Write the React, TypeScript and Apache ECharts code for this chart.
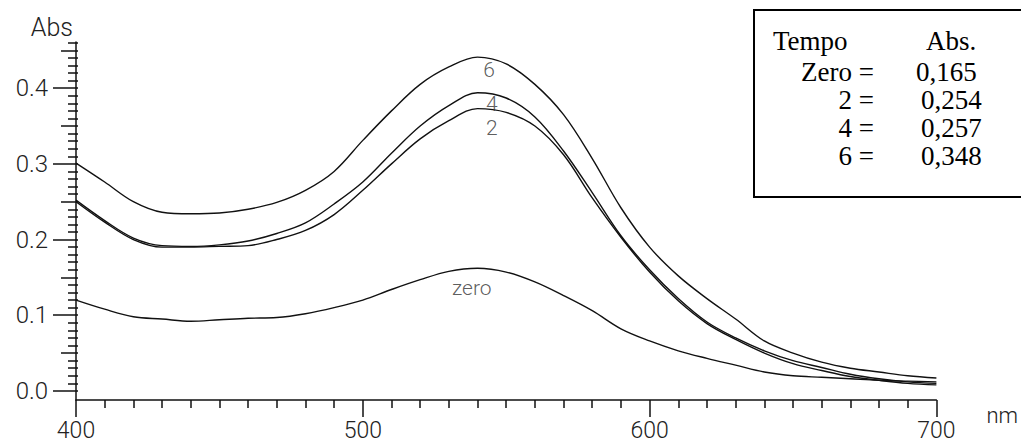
import React, { useEffect, useRef } from "react";
import * as echarts from "echarts";

// ---- data ----
const wavelengths = [400, 410, 420, 430, 440, 450, 460, 470, 480, 490, 500, 510, 520, 530, 540, 550, 560, 570, 580, 590, 600, 610, 620, 630, 640, 650, 660, 670, 680, 690, 700];
const absZero = [0.120, 0.108, 0.098, 0.095, 0.092, 0.094, 0.096, 0.097, 0.102, 0.110, 0.120, 0.134, 0.147, 0.158, 0.162, 0.157, 0.144, 0.126, 0.106, 0.082, 0.066, 0.053, 0.043, 0.034, 0.025, 0.020, 0.018, 0.016, 0.014, 0.013, 0.012];
const abs2 = [0.250, 0.223, 0.200, 0.190, 0.190, 0.191, 0.192, 0.200, 0.212, 0.233, 0.265, 0.300, 0.333, 0.357, 0.373, 0.368, 0.350, 0.312, 0.255, 0.203, 0.157, 0.119, 0.089, 0.068, 0.050, 0.036, 0.027, 0.019, 0.014, 0.010, 0.008];
const abs4 = [0.252, 0.225, 0.202, 0.192, 0.191, 0.193, 0.198, 0.208, 0.222, 0.247, 0.276, 0.314, 0.350, 0.377, 0.394, 0.387, 0.362, 0.317, 0.262, 0.205, 0.160, 0.122, 0.091, 0.070, 0.053, 0.040, 0.031, 0.022, 0.016, 0.012, 0.010];
const abs6 = [0.301, 0.276, 0.250, 0.236, 0.234, 0.235, 0.240, 0.249, 0.265, 0.290, 0.331, 0.370, 0.405, 0.428, 0.441, 0.432, 0.405, 0.365, 0.307, 0.242, 0.190, 0.152, 0.122, 0.095, 0.066, 0.050, 0.038, 0.030, 0.025, 0.020, 0.017];

const curveLabels = ["6", "4", "2", "zero"];
const curveLabelNm = [544, 545, 545, 538];
const curveLabelAbs = [0.424, 0.379, 0.347, 0.136];

const xTickLabels = [400, 500, 600, 700];
const yMajorTicks = [0.0, 0.1, 0.2, 0.3, 0.4];
const yMediumTicks = [0.05, 0.15, 0.25, 0.35, 0.45];

const legendHeader = ["Tempo", "Abs."];
const legendTimes = ["Zero =", "2 =", "4 =", "6 ="];
const legendValues = ["0,165", "0,254", "0,257", "0,348"];

export default function App() {
  const ref = useRef<HTMLDivElement>(null);

  useEffect(() => {
    if (!ref.current) return;
    const chart = echarts.init(ref.current, null, { renderer: "svg" });

    const toPairs = (arr: number[]) => wavelengths.map((w, i) => [w, arr[i]]);
    const yMin = -0.012;
    const yMax = 0.461;

    // minor tick positions every 0.01, excluding the 0.05 marks
    const yMinorTicks: number[] = [];
    const yAllTicks: number[] = [];
    for (let k = 0; k <= 46; k++) {
      const v = k / 100;
      yAllTicks.push(v);
      if (k % 5 !== 0) yMinorTicks.push(v);
    }

    const axisFont = "Roboto, 'DejaVu Sans', sans-serif";
    const serif = "'Liberation Serif', 'Times New Roman', serif";

    const baseY = {
      type: "value" as const,
      min: yMin,
      max: yMax,
      position: "left" as const,
      splitLine: { show: false },
    };

    const legendRowY = [72, 100, 128, 156];
    const legendFont = `27px ${serif}`;

    const graphic: any[] = [
      {
        type: "rect",
        shape: { x: 754, y: 10, width: 290, height: 187 },
        style: { fill: "#fff", stroke: "#000", lineWidth: 2 },
        z: 10,
      },
      {
        type: "text",
        x: 773,
        y: 41,
        style: { text: legendHeader[0], font: legendFont, fill: "#000", align: "left", textAlign: "left", verticalAlign: "middle", textVerticalAlign: "middle" },
        z: 11,
      },
      {
        type: "text",
        x: 926,
        y: 41,
        style: { text: legendHeader[1], font: legendFont, fill: "#000", align: "left", textAlign: "left", verticalAlign: "middle", textVerticalAlign: "middle" },
        z: 11,
      },
    ];
    legendTimes.forEach((t, i) => {
      graphic.push({
        type: "text",
        x: 874,
        y: legendRowY[i],
        style: { text: t, font: legendFont, fill: "#000", align: "right", textAlign: "right", verticalAlign: "middle", textVerticalAlign: "middle" },
        z: 11,
      });
      graphic.push({
        type: "text",
        x: i === 0 ? 916 : 921,
        y: legendRowY[i],
        style: { text: legendValues[i], font: legendFont, fill: "#000", align: "left", textAlign: "left", verticalAlign: "middle", textVerticalAlign: "middle" },
        z: 11,
      });
    });

    const lineSeries = (name: string, arr: number[]) => ({
      name,
      type: "line" as const,
      data: toPairs(arr),
      showSymbol: false,
      symbol: "none",
      smooth: 0.35,
      lineStyle: { color: "#111", width: 1.4 },
      z: 2,
    });

    chart.setOption({
      animation: false,
      backgroundColor: "#fff",
      grid: { left: 76, right: 76, top: 42, bottom: 43, containLabel: false },
      xAxis: {
        type: "value",
        min: 400,
        max: 700,
        interval: 100,
        name: "nm",
        nameLocation: "end",
        nameGap: 50,
        nameTextStyle: { fontFamily: axisFont, fontWeight: 300, fontSize: 22, color: "#222", align: "left", verticalAlign: "top", padding: [4, 0, 0, 0] },
        axisLine: { show: true, onZero: false, lineStyle: { color: "#111", width: 1.5 } },
        axisTick: { show: true, length: 17, lineStyle: { color: "#111", width: 1.5 } },
        minorTick: { show: true, splitNumber: 10, length: 8, lineStyle: { color: "#111", width: 1.5 } },
        axisLabel: {
          show: true,
          margin: 19,
          fontFamily: axisFont,
          fontWeight: 300,
          fontSize: 23,
          color: "#222",
          customValues: xTickLabels,
          formatter: (v: number) => String(v),
        },
        splitLine: { show: false },
      },
      yAxis: [
        {
          ...baseY,
          name: "Abs",
          nameLocation: "end",
          nameGap: 15,
          nameTextStyle: { fontFamily: axisFont, fontWeight: 300, fontSize: 25, color: "#222", align: "right", verticalAlign: "middle", padding: [0, 3, 0, 0] },
          axisLine: { show: true, lineStyle: { color: "#111", width: 1.5 } },
          axisTick: { show: true, length: 23, customValues: yMajorTicks, lineStyle: { color: "#111", width: 1.5 } },
          axisLabel: {
            show: true,
            margin: 28,
            fontFamily: axisFont,
            fontWeight: 300,
            fontSize: 24,
            color: "#222",
            customValues: yMajorTicks,
            formatter: (v: number) => v.toFixed(1),
          },
        },
        {
          ...baseY,
          axisLine: { show: false },
          axisTick: { show: true, length: 15, customValues: yMediumTicks, lineStyle: { color: "#111", width: 1.5 } },
          axisLabel: { show: false },
        },
        {
          ...baseY,
          axisLine: { show: false },
          axisTick: { show: true, length: 8, customValues: yMinorTicks, lineStyle: { color: "#111", width: 1.5 } },
          axisLabel: { show: false },
        },
        {
          ...baseY,
          axisLine: { show: false },
          axisTick: { show: true, inside: true, length: 2, customValues: yAllTicks, lineStyle: { color: "#111", width: 1.5 } },
          axisLabel: { show: false },
        },
      ],
      series: [
        lineSeries("zero", absZero),
        lineSeries("2", abs2),
        lineSeries("4", abs4),
        lineSeries("6", abs6),
        {
          name: "labels",
          type: "scatter",
          symbolSize: 0,
          data: curveLabels.map((t, i) => ({ name: t, value: [curveLabelNm[i], curveLabelAbs[i]] })),
          label: {
            show: true,
            position: "inside",
            formatter: "{b}",
            fontFamily: axisFont,
            fontWeight: 300,
            fontSize: 21,
            lineHeight: 21,
            color: "#333",
          },
          z: 3,
        },
      ],
      graphic,
    });

    return () => chart.dispose();
  }, []);

  return (
    <div
      ref={ref}
      style={{ position: "fixed", left: 0, top: 0, width: 1021, height: 443, background: "#fff" }}
    />
  );
}
